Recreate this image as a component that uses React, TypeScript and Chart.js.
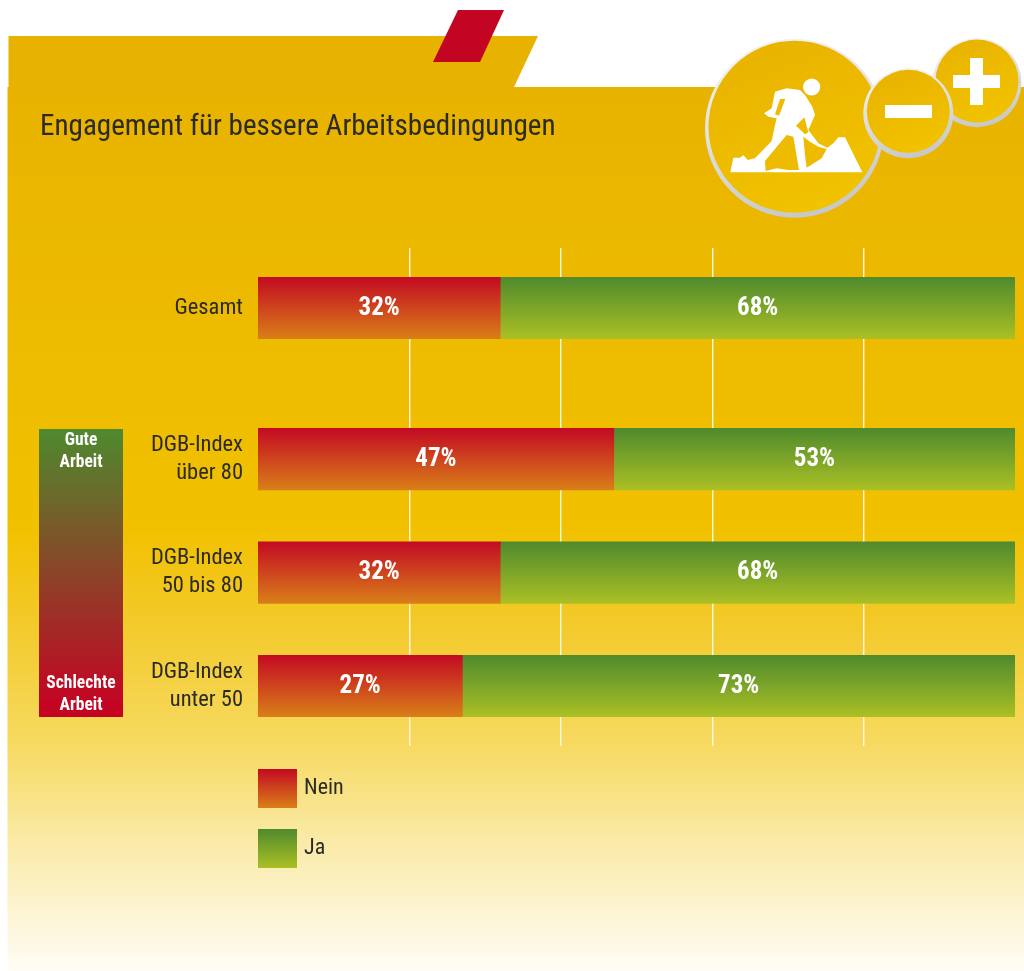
import { useEffect, useRef } from "react";
import { Chart, registerables } from "chart.js";

Chart.register(...registerables);

const categories: string[][] = [["Gesamt"], ["DGB-Index", "über 80"], ["DGB-Index", "50 bis 80"], ["DGB-Index", "unter 50"]];
const rowSlots = [0, 4, 7, 10];
const neinValues = [32, 47, 32, 27];
const jaValues = [68, 53, 68, 73];
const titleText = "Engagement für bessere Arbeitsbedingungen";
const gridTicks = [20, 40, 60, 80];

const FONT = '"Roboto Condensed", Roboto, sans-serif';

function barGradient(ctx: CanvasRenderingContext2D, top: number, bottom: number, c0: string, c1: string) {
  const g = ctx.createLinearGradient(0, top, 0, bottom);
  g.addColorStop(0, c0);
  g.addColorStop(1, c1);
  return g;
}

function badge(ctx: CanvasRenderingContext2D, cx: number, cy: number, r: number, icy: number, ir: number) {
  const ring = ctx.createLinearGradient(cx - r * 0.3, cy - r, cx + r * 0.3, cy + r);
  ring.addColorStop(0, "#f5f4ee");
  ring.addColorStop(1, "#c6c6c6");
  ctx.fillStyle = ring;
  ctx.beginPath();
  ctx.arc(cx, cy, r, 0, Math.PI * 2);
  ctx.fill();
  const fill = ctx.createLinearGradient(cx - ir * 0.4, icy - ir, cx + ir * 0.4, icy + ir);
  fill.addColorStop(0, "#e9b300");
  fill.addColorStop(1, "#f1c300");
  ctx.fillStyle = fill;
  ctx.beginPath();
  ctx.arc(cx, icy, ir, 0, Math.PI * 2);
  ctx.fill();
}

function poly(ctx: CanvasRenderingContext2D, pts: number[][], color: string) {
  ctx.fillStyle = color;
  ctx.beginPath();
  pts.forEach(([x, y], i) => {
    const px = 725 + x / 3;
    const py = 75 + y / 3;
    if (i) ctx.lineTo(px, py);
    else ctx.moveTo(px, py);
  });
  ctx.closePath();
  ctx.fill();
}

const backdrop = {
  id: "backdrop",
  beforeDraw(chart: Chart) {
    const ctx = chart.ctx;
    ctx.save();
    ctx.fillStyle = "#ffffff";
    ctx.fillRect(0, 0, 1024, 971);
    ctx.fillStyle = "#e8b300";
    ctx.beginPath();
    ctx.moveTo(8.5, 36);
    ctx.lineTo(538, 36);
    ctx.lineTo(514, 87);
    ctx.lineTo(8.5, 87);
    ctx.closePath();
    ctx.fill();
    const bg = ctx.createLinearGradient(0, 87, 0, 971);
    bg.addColorStop(0, "#e8b300");
    bg.addColorStop(0.5, "#f1c100");
    bg.addColorStop(0.6, "#f3c928");
    bg.addColorStop(0.74, "#f6d95f");
    bg.addColorStop(0.86, "#faebab");
    bg.addColorStop(1, "#fffdf6");
    ctx.fillStyle = bg;
    ctx.fillRect(7.5, 87, 1024 - 7.5, 971 - 87);
    ctx.fillStyle = "#c30523";
    ctx.beginPath();
    ctx.moveTo(458, 10);
    ctx.lineTo(504, 10);
    ctx.lineTo(480, 62);
    ctx.lineTo(433, 62);
    ctx.closePath();
    ctx.fill();

    ctx.fillStyle = "#2b2a25";
    ctx.font = `29.1px ${FONT}`;
    ctx.textBaseline = "alphabetic";
    ctx.textAlign = "left";
    ctx.fillText(titleText, 40, 135);

    // icon
    badge(ctx, 794.5, 128.3, 89.5, 126.7, 86);
    badge(ctx, 977, 82.7, 44.5, 81, 41.5);
    badge(ctx, 908.3, 113.3, 45, 111.3, 41.5);
    ctx.fillStyle = "#ffffff";
    ctx.fillRect(885, 105, 47, 13);
    ctx.fillRect(953, 75, 47, 13);
    ctx.fillRect(970, 58, 13, 47);
    ctx.beginPath();
    ctx.arc(725 + 260 / 3, 75 + 36 / 3, 8.6, 0, Math.PI * 2);
    ctx.fill();
    const white = "#ffffff";
    const gold = "#eebb00";
    poly(ctx, [[16, 292], [25, 248], [45, 248], [55, 240], [68, 255], [90, 250], [140, 198], [150, 150], [155, 130], [130, 125], [117, 115], [140, 100], [150, 50], [185, 40], [225, 45], [240, 60], [262, 95], [270, 120], [250, 165], [280, 205], [307, 218], [325, 205], [340, 187], [360, 187], [412, 292]], white);
    poly(ctx, [[165, 72], [181, 72], [162, 122], [150, 118]], gold);
    poly(ctx, [[120, 258], [185, 180], [205, 185], [222, 285], [190, 285], [155, 280], [122, 288]], gold);
    poly(ctx, [[235, 185], [255, 200], [280, 215], [305, 222], [290, 250], [245, 278], [240, 240]], gold);
    poly(ctx, [[213, 152], [238, 127], [250, 172], [240, 178]], gold);

    // left scale
    const sc = ctx.createLinearGradient(0, 429, 0, 717);
    sc.addColorStop(0, "#4e8a2e");
    sc.addColorStop(0.95, "#c30523");
    ctx.fillStyle = sc;
    ctx.fillRect(39, 429, 84, 288);
    ctx.fillStyle = "#ffffff";
    ctx.font = `bold 17.5px ${FONT}`;
    ctx.textAlign = "center";
    ctx.textBaseline = "middle";
    ctx.fillText("Gute", 81, 441);
    ctx.fillText("Arbeit", 81, 463);
    ctx.fillText("Schlechte", 81, 684);
    ctx.fillText("Arbeit", 81, 706);

    // legend
    ctx.fillStyle = barGradient(ctx, 769, 808, "#c30a23", "#d97f18");
    ctx.fillRect(258, 769, 39, 39);
    ctx.fillStyle = barGradient(ctx, 829, 868, "#4f8a2d", "#abc024");
    ctx.fillRect(258, 829, 39, 39);
    ctx.fillStyle = "#2b2a25";
    ctx.font = `22px ${FONT}`;
    ctx.textAlign = "left";
    ctx.fillText("Nein", 304, 788);
    ctx.fillText("Ja", 304, 848);
    ctx.restore();
  },
};

const barLabels = {
  id: "barLabels",
  afterDatasetsDraw(chart: Chart) {
    const ctx = chart.ctx;
    ctx.save();
    ctx.fillStyle = "#ffffff";
    ctx.font = `bold 25px ${FONT}`;
    ctx.textAlign = "center";
    ctx.textBaseline = "middle";
    chart.data.datasets.forEach((ds: any, d: number) => {
      chart.getDatasetMeta(d).data.forEach((el: any, i: number) => {
        ctx.fillText(`${ds.data[i].x}%`, (el.x + el.base) / 2, el.y + 0.5);
      });
    });
    ctx.restore();
  },
};

function rowFill(c0: string, c1: string) {
  return (c: any) => {
    const el = c.element;
    if (!el || !c.chart.chartArea) return c0;
    const mid = c.chart.scales.y.getPixelForValue(rowSlots[c.dataIndex]);
    return barGradient(c.chart.ctx, mid - 31, mid + 31, c0, c1);
  };
}

export default function App() {
  const ref = useRef<HTMLCanvasElement>(null);
  useEffect(() => {
    document.body.style.margin = "0";
    const chart = new Chart(ref.current!, {
      type: "bar",
      data: {
        datasets: [
          { label: "Nein", data: neinValues.map((x, i) => ({ x, y: rowSlots[i] })), backgroundColor: rowFill("#c30a23", "#d97f18"), barThickness: 61.5 },
          { label: "Ja", data: jaValues.map((x, i) => ({ x, y: rowSlots[i] })), backgroundColor: rowFill("#4f8a2d", "#abc024"), barThickness: 61.5 },
        ],
      } as any,
      options: {
        indexAxis: "y",
        animation: false,
        responsive: false,
        layout: { padding: { top: 248, right: 9, bottom: 225, left: 0 } },
        plugins: { legend: { display: false }, tooltip: { enabled: false } },
        scales: {
          x: {
            stacked: true,
            min: 0,
            max: 100,
            border: { display: false },
            grid: { color: "#fff8e0", lineWidth: 1.4, drawTicks: false },
            afterBuildTicks: (s: any) => {
              s.ticks = gridTicks.map((value) => ({ value }));
            },
            ticks: { display: false },
          },
          y: {
            type: "linear",
            stacked: true,
            reverse: true,
            offset: false,
            min: -1.587,
            max: 11.587,
            border: { display: false },
            grid: { display: false, drawTicks: false, offset: false },
            afterBuildTicks: (s: any) => {
              s.ticks = rowSlots.map((value) => ({ value }));
            },
            afterFit: (s: any) => {
              s.width = 258;
            },
            ticks: {
              autoSkip: false,
              padding: 15,
              color: "#2b2a25",
              font: { family: FONT, size: 22.5, lineHeight: 1.25 },
              callback: (v: any) => categories[rowSlots.indexOf(Number(v))],
            },
          },
        },
      },
      plugins: [backdrop, barLabels],
    } as any);
    return () => chart.destroy();
  }, []);
  return <canvas ref={ref} width={1024} height={971} style={{ display: "block" }} />;
}
